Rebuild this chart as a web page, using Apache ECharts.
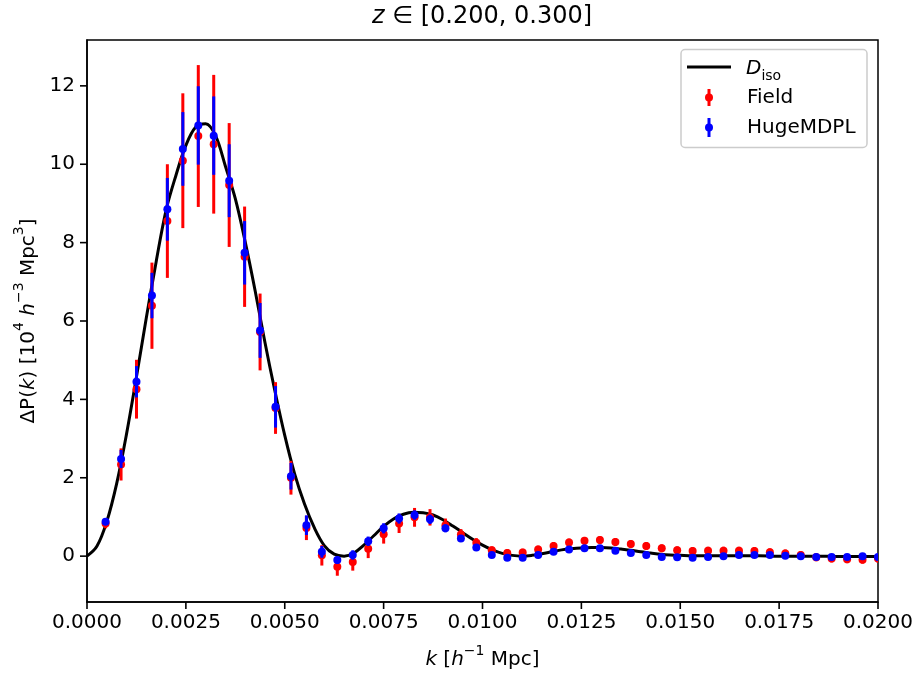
<!DOCTYPE html>
<html>
<head>
<meta charset="utf-8">
<script src="https://cdn.jsdelivr.net/npm/echarts@6/dist/echarts.min.js"></script>
<style>
  html, body { margin: 0; padding: 0; background: #fff; }
  #chart { width: 919px; height: 675px; }
</style>
</head>
<body>
<div id="chart"></div>
<script>
// Wavenumber bins k [h^-1 Mpc]
const kBins = [
  0.000470, 0.000861, 0.001251, 0.001642, 0.002032, 0.002423, 0.002814, 0.003204,
  0.003595, 0.003985, 0.004376, 0.004767, 0.005157, 0.005548, 0.005938, 0.006329,
  0.006720, 0.007110, 0.007501, 0.007891, 0.008282, 0.008673, 0.009063, 0.009454,
  0.009844, 0.010235, 0.010626, 0.011016, 0.011407, 0.011797, 0.012188, 0.012579,
  0.012969, 0.013360, 0.013750, 0.014141, 0.014532, 0.014922, 0.015313, 0.015703,
  0.016094, 0.016485, 0.016875, 0.017266, 0.017656, 0.018047, 0.018438, 0.018828,
  0.019219, 0.019609, 0.020000
];

// Field measurement and its 1-sigma error
const fieldValues = [
  0.83, 2.34, 4.26, 6.39, 8.55, 10.09, 10.72, 10.51, 9.47, 7.64, 5.72, 3.78, 2.00,
  0.72, 0.02, -0.27, -0.15, 0.19, 0.56, 0.83, 0.99, 0.99, 0.79, 0.55, 0.34, 0.15,
  0.08, 0.09, 0.17, 0.26, 0.35, 0.39, 0.41, 0.36, 0.31, 0.26, 0.20, 0.15, 0.13,
  0.14, 0.14, 0.14, 0.13, 0.10, 0.07, 0.03, -0.03, -0.06, -0.08, -0.09, -0.06
];
const fieldErrors = [
  0.12, 0.41, 0.75, 1.10, 1.45, 1.72, 1.81, 1.77, 1.58, 1.28, 0.98, 0.66, 0.43,
  0.31, 0.26, 0.23, 0.22, 0.24, 0.24, 0.24, 0.24, 0.21, 0.17, 0.14, 0.12, 0.10,
  0.10, 0.10, 0.10, 0.10, 0.10, 0.10, 0.10, 0.10, 0.10, 0.10, 0.10, 0.10, 0.10,
  0.10, 0.10, 0.10, 0.10, 0.10, 0.10, 0.10, 0.10, 0.10, 0.10, 0.10, 0.10
];

// HugeMDPL mocks and their 1-sigma error
const mockValues = [
  0.88, 2.48, 4.45, 6.65, 8.85, 10.39, 10.99, 10.73, 9.58, 7.74, 5.76, 3.81, 2.04,
  0.79, 0.11, -0.10, 0.03, 0.38, 0.71, 0.96, 1.05, 0.94, 0.71, 0.45, 0.22, 0.03,
  -0.04, -0.04, 0.03, 0.11, 0.17, 0.20, 0.20, 0.14, 0.08, 0.03, -0.02, -0.03, -0.04,
  -0.02, 0.00, 0.03, 0.03, 0.03, 0.01, 0.00, -0.02, -0.02, -0.02, 0.00, -0.02
];
const mockErrors = [
  0.06, 0.23, 0.40, 0.58, 0.80, 0.94, 1.00, 1.00, 0.93, 0.81, 0.70, 0.53, 0.34,
  0.25, 0.15, 0.10, 0.12, 0.12, 0.13, 0.13, 0.12, 0.12, 0.10, 0.07, 0.06, 0.06,
  0.06, 0.06, 0.06, 0.06, 0.06, 0.06, 0.06, 0.06, 0.06, 0.06, 0.06, 0.06, 0.06,
  0.06, 0.06, 0.06, 0.06, 0.06, 0.06, 0.06, 0.06, 0.06, 0.06, 0.06, 0.06
];

// Isotropic BAO template D_iso sampled on a fine k grid
const modelK = [
  0.00000, 0.00025, 0.00050, 0.00075, 0.00100, 0.00125, 0.00150, 0.00175, 0.00200,
  0.00225, 0.00250, 0.00275, 0.00300, 0.00325, 0.00350, 0.00375, 0.00400, 0.00425,
  0.00450, 0.00475, 0.00500, 0.00525, 0.00550, 0.00575, 0.00600, 0.00625, 0.00650,
  0.00675, 0.00700, 0.00725, 0.00750, 0.00775, 0.00800, 0.00825, 0.00850, 0.00875,
  0.00900, 0.00925, 0.00950, 0.00975, 0.01000, 0.01025, 0.01050, 0.01075, 0.01100,
  0.01125, 0.01150, 0.01175, 0.01200, 0.01225, 0.01250, 0.01275, 0.01300, 0.01325,
  0.01350, 0.01375, 0.01400, 0.01425, 0.01450, 0.01475, 0.01500, 0.01550, 0.01600,
  0.01650, 0.01700, 0.01750, 0.01800, 0.01850, 0.01900, 0.01950, 0.02000
];
const modelValues = [
  0.00, 0.25, 0.88, 1.85, 3.12, 4.57, 6.08, 7.52, 8.83,
  9.72, 10.48, 10.95, 11.03, 10.73, 9.95, 9.12, 8.02, 6.78,
  5.45, 4.22, 3.08, 2.10, 1.33, 0.72, 0.27, 0.05, 0.00,
  0.08, 0.28, 0.52, 0.76, 0.95, 1.07, 1.12, 1.11, 1.05,
  0.93, 0.77, 0.60, 0.43, 0.28, 0.16, 0.07, 0.02, 0.00,
  0.02, 0.06, 0.11, 0.16, 0.19, 0.21, 0.22, 0.22, 0.21,
  0.18, 0.15, 0.11, 0.08, 0.05, 0.03, 0.02, 0.01, 0.01,
  0.01, 0.01, 0.00, 0.00, 0.00, -0.01, -0.01, -0.01
];

// Tick positions
const xTicks = [0, 0.0025, 0.005, 0.0075, 0.01, 0.0125, 0.015, 0.0175, 0.02];
const yTicks = [0, 2, 4, 6, 8, 10, 12];
const Y_MIN = -1.17, Y_MAX = 13.17;

const FONT = 'DejaVu Sans';
const RED = '#ff0000';
const BLUE = '#0000ff';
const TICK_LEN = 7;

function zip3(a, b, c) {
  return a.map((v, i) => [v, b[i], c[i]]);
}

// Vertical error bar with a round marker at the central value
function errorBarRenderer(color) {
  return function (params, api) {
    const k = api.value(0), v = api.value(1), e = api.value(2);
    const top = api.coord([k, v + e]);
    const bot = api.coord([k, v - e]);
    const mid = api.coord([k, v]);
    return {
      type: 'group',
      children: [
        { type: 'line', shape: { x1: top[0], y1: top[1], x2: bot[0], y2: bot[1] },
          style: { stroke: color, lineWidth: 3 } },
        { type: 'circle', shape: { cx: mid[0], cy: mid[1], r: 4 },
          style: { fill: color } }
      ]
    };
  };
}

function mathRich() {
  return {
    n: { fontFamily: FONT, fontSize: 20, color: '#000', lineHeight: 26, verticalAlign: 'bottom' },
    i: { fontFamily: FONT, fontStyle: 'italic', fontSize: 20, color: '#000', lineHeight: 26, verticalAlign: 'bottom' },
    sup: { fontFamily: FONT, fontSize: 14, color: '#000', lineHeight: 26, verticalAlign: 'top' }
  };
}

// Title and legend box
const baseGraphics = [
  {
    id: 'title',
    type: 'text',
    x: 482, y: 17,
    style: {
      text: '{i|z}{n| ∈ [0.200, 0.300]}',
      align: 'center', verticalAlign: 'middle',
      rich: {
        n: { fontFamily: FONT, fontSize: 24, color: '#000' },
        i: { fontFamily: FONT, fontStyle: 'italic', fontSize: 24, color: '#000' }
      }
    }
  },
  {
    id: 'legend',
    type: 'group',
    z: 100,
    children: [
      { type: 'rect', shape: { x: 681, y: 49.5, width: 186, height: 98, r: 4 },
        style: { fill: 'rgba(255,255,255,0.8)', stroke: '#cccccc', lineWidth: 1.5 } },
      { type: 'line', shape: { x1: 687, y1: 67, x2: 731, y2: 67 },
        style: { stroke: '#000', lineWidth: 3 } },
      { type: 'text', x: 746, y: 69,
        style: {
          text: '{i|D}{s|iso}', verticalAlign: 'middle',
          rich: {
            i: { fontFamily: FONT, fontStyle: 'italic', fontSize: 20, color: '#000', lineHeight: 28, verticalAlign: 'middle' },
            s: { fontFamily: FONT, fontSize: 14, color: '#000', lineHeight: 28, verticalAlign: 'bottom' }
          }
        } },
      { type: 'line', shape: { x1: 709, y1: 89, x2: 709, y2: 106 },
        style: { stroke: RED, lineWidth: 3 } },
      { type: 'circle', shape: { cx: 709, cy: 97.5, r: 4 }, style: { fill: RED } },
      { type: 'text', x: 747, y: 97.5,
        style: { text: 'Field', fontFamily: FONT, fontSize: 20, fill: '#000', verticalAlign: 'middle' } },
      { type: 'line', shape: { x1: 709, y1: 118, x2: 709, y2: 137 },
        style: { stroke: BLUE, lineWidth: 3 } },
      { type: 'circle', shape: { cx: 709, cy: 127.5, r: 4 }, style: { fill: BLUE } },
      { type: 'text', x: 747, y: 127.5,
        style: { text: 'HugeMDPL', fontFamily: FONT, fontSize: 20, fill: '#000', verticalAlign: 'middle' } }
    ]
  }
];

const chart = echarts.init(document.getElementById('chart'), null, { renderer: 'canvas' });

chart.setOption({
  animation: false,
  backgroundColor: '#ffffff',
  grid: {
    left: 87, right: 41, top: 40, bottom: 73,
    show: true, borderColor: '#000', borderWidth: 1.5
  },
  xAxis: {
    type: 'value',
    min: 0, max: 0.02, interval: 0.0025,
    splitLine: { show: false },
    axisLine: { show: true, onZero: false, lineStyle: { color: '#000', width: 1.5 } },
    axisTick: { show: false },
    axisLabel: {
      margin: 11, color: '#000', fontFamily: FONT, fontSize: 20,
      formatter: v => v.toFixed(4)
    },
    name: '{i|k}{n| [}{i|h}{sup|−1}{n| Mpc]}',
    nameLocation: 'middle',
    nameGap: 42,
    nameTextStyle: { rich: mathRich() }
  },
  yAxis: {
    type: 'value',
    min: Y_MIN, max: Y_MAX,
    splitLine: { show: false },
    axisLine: { show: true, onZero: false, lineStyle: { color: '#000', width: 1.5 } },
    axisTick: { show: false },
    axisLabel: { margin: 12, color: '#000', fontFamily: FONT, fontSize: 20, customValues: yTicks },
    name: '{n|ΔP(}{i|k}{n|) [10}{sup|4}{n| }{i|h}{sup|−3}{n| Mpc}{sup|3}{n|]}',
    nameLocation: 'middle',
    nameRotate: 90,
    nameGap: 48,
    nameTextStyle: { rich: mathRich() }
  },
  series: [
    {
      name: 'D_iso',
      type: 'line',
      data: modelK.map((k, i) => [k, modelValues[i]]),
      showSymbol: false,
      smooth: 0.35,
      lineStyle: { color: '#000', width: 3 },
      z: 1
    },
    {
      name: 'Field',
      type: 'custom',
      renderItem: errorBarRenderer(RED),
      data: zip3(kBins, fieldValues, fieldErrors),
      encode: { x: 0, y: 1 },
      clip: true,
      z: 2
    },
    {
      name: 'HugeMDPL',
      type: 'custom',
      renderItem: errorBarRenderer(BLUE),
      data: zip3(kBins, mockValues, mockErrors),
      encode: { x: 0, y: 1 },
      clip: true,
      z: 3
    }
  ],
  graphic: baseGraphics
});

// Outward tick marks, placed through the axes' own scales
const finder = { xAxisIndex: 0, yAxisIndex: 0 };
const tickLines = [];
xTicks.forEach((v, i) => {
  const p = chart.convertToPixel(finder, [v, Y_MIN]);
  tickLines.push({
    id: 'xtick' + i, type: 'line', z: 50,
    shape: { x1: p[0], y1: p[1], x2: p[0], y2: p[1] + TICK_LEN },
    style: { stroke: '#000', lineWidth: 1.6 }
  });
});
yTicks.forEach((v, i) => {
  const p = chart.convertToPixel(finder, [0, v]);
  tickLines.push({
    id: 'ytick' + i, type: 'line', z: 50,
    shape: { x1: p[0] - TICK_LEN, y1: p[1], x2: p[0], y2: p[1] },
    style: { stroke: '#000', lineWidth: 1.6 }
  });
});
chart.setOption({ graphic: baseGraphics.concat(tickLines) });
</script>
</body>
</html>
